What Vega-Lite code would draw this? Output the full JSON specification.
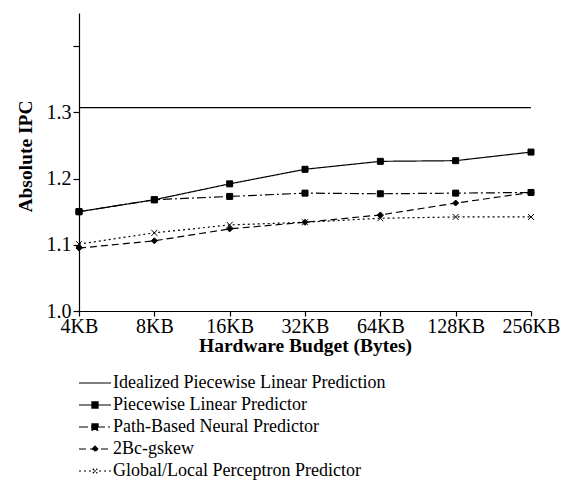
{
  "$schema": "https://vega.github.io/schema/vega-lite/v6.json",
  "width": 452,
  "height": 298,
  "autosize": "none",
  "padding": {"left": 79, "top": 13, "right": 36, "bottom": 174},
  "background": "white",
  "config": {
    "font": "Liberation Serif",
    "view": {"stroke": null},
    "axis": {"domainColor": "black", "tickColor": "black", "labelColor": "black", "titleColor": "black", "grid": false, "domainWidth": 1.2, "tickWidth": 1.2}
  },
  "data": {
    "values": [
      {"size": "4KB", "series": "Idealized Piecewise Linear Prediction", "ipc": 1.307},
      {"size": "8KB", "series": "Idealized Piecewise Linear Prediction", "ipc": 1.307},
      {"size": "16KB", "series": "Idealized Piecewise Linear Prediction", "ipc": 1.307},
      {"size": "32KB", "series": "Idealized Piecewise Linear Prediction", "ipc": 1.307},
      {"size": "64KB", "series": "Idealized Piecewise Linear Prediction", "ipc": 1.307},
      {"size": "128KB", "series": "Idealized Piecewise Linear Prediction", "ipc": 1.307},
      {"size": "256KB", "series": "Idealized Piecewise Linear Prediction", "ipc": 1.307},
      {"size": "4KB", "series": "Piecewise Linear Predictor", "ipc": 1.150},
      {"size": "8KB", "series": "Piecewise Linear Predictor", "ipc": 1.168},
      {"size": "16KB", "series": "Piecewise Linear Predictor", "ipc": 1.192},
      {"size": "32KB", "series": "Piecewise Linear Predictor", "ipc": 1.214},
      {"size": "64KB", "series": "Piecewise Linear Predictor", "ipc": 1.226},
      {"size": "128KB", "series": "Piecewise Linear Predictor", "ipc": 1.227},
      {"size": "256KB", "series": "Piecewise Linear Predictor", "ipc": 1.240},
      {"size": "4KB", "series": "Path-Based Neural Predictor", "ipc": 1.150},
      {"size": "8KB", "series": "Path-Based Neural Predictor", "ipc": 1.168},
      {"size": "16KB", "series": "Path-Based Neural Predictor", "ipc": 1.173},
      {"size": "32KB", "series": "Path-Based Neural Predictor", "ipc": 1.178},
      {"size": "64KB", "series": "Path-Based Neural Predictor", "ipc": 1.177},
      {"size": "128KB", "series": "Path-Based Neural Predictor", "ipc": 1.178},
      {"size": "256KB", "series": "Path-Based Neural Predictor", "ipc": 1.179},
      {"size": "4KB", "series": "2Bc-gskew", "ipc": 1.095},
      {"size": "8KB", "series": "2Bc-gskew", "ipc": 1.106},
      {"size": "16KB", "series": "2Bc-gskew", "ipc": 1.124},
      {"size": "32KB", "series": "2Bc-gskew", "ipc": 1.134},
      {"size": "64KB", "series": "2Bc-gskew", "ipc": 1.145},
      {"size": "128KB", "series": "2Bc-gskew", "ipc": 1.163},
      {"size": "256KB", "series": "2Bc-gskew", "ipc": 1.179},
      {"size": "4KB", "series": "Global/Local Perceptron Predictor", "ipc": 1.101},
      {"size": "8KB", "series": "Global/Local Perceptron Predictor", "ipc": 1.118},
      {"size": "16KB", "series": "Global/Local Perceptron Predictor", "ipc": 1.130},
      {"size": "32KB", "series": "Global/Local Perceptron Predictor", "ipc": 1.134},
      {"size": "64KB", "series": "Global/Local Perceptron Predictor", "ipc": 1.140},
      {"size": "128KB", "series": "Global/Local Perceptron Predictor", "ipc": 1.142},
      {"size": "256KB", "series": "Global/Local Perceptron Predictor", "ipc": 1.142}
    ]
  },
  "encoding": {
    "x": {
      "field": "size", "type": "ordinal",
      "sort": ["4KB", "8KB", "16KB", "32KB", "64KB", "128KB", "256KB"],
      "scale": {"type": "point", "padding": 0},
      "axis": {"title": "Hardware Budget (Bytes)", "labelAngle": 0, "labelFontSize": 20, "labelPadding": 0, "tickSize": 5, "titleFontSize": 19.5, "titleFontWeight": "bold", "titlePadding": 0}
    },
    "y": {
      "field": "ipc", "type": "quantitative",
      "scale": {"domain": [1.0, 1.45], "nice": false, "zero": false},
      "axis": {"title": "Absolute IPC", "values": [1.0, 1.1, 1.2, 1.3, 1.4], "labelExpr": "datum.value > 1.35 ? '' : format(datum.value, '.1f')", "labelFontSize": 20, "labelPadding": 2, "tickSize": 6, "titleFontSize": 19.5, "titleFontWeight": "bold", "titlePadding": 11, "titleY": 143}
    }
  },
  "layer": [
    {
      "mark": {"type": "line", "color": "black", "strokeWidth": 1.2},
      "encoding": {
        "strokeDash": {
          "field": "series", "type": "nominal",
          "scale": {
            "domain": ["Idealized Piecewise Linear Prediction", "Piecewise Linear Predictor", "Path-Based Neural Predictor", "2Bc-gskew", "Global/Local Perceptron Predictor"],
            "range": [[1, 0], [1, 0], [9, 3, 2, 3], [7, 4], [2, 3]]
          },
          "legend": {
            "title": null,
            "orient": "none",
            "legendX": -1,
            "legendY": 361,
            "labelFontSize": 18,
            "labelColor": "black",
            "labelLimit": 0,
            "symbolSize": 256,
            "symbolStrokeWidth": 1.2,
            "symbolStrokeColor": "black",
            "labelOffset": 17,
            "rowPadding": 4,
            "encode": {
              "symbols": {
                "update": {
                  "shape": {"signal": "(datum.value === 'Piecewise Linear Predictor' || datum.value === 'Path-Based Neural Predictor') ? 'M-1,0H3M0.62,-0.38H1.38V0.38H0.62Z' : datum.value === '2Bc-gskew' ? 'M-1,0H3M1,-0.35L1.35,0L1,0.35L0.65,0Z' : datum.value === 'Global/Local Perceptron Predictor' ? 'M-1,0H3M0.72,-0.28L1.28,0.28M0.72,0.28L1.28,-0.28' : 'M-1,0H3'"},
                  "fill": {"value": "black"},
                  "stroke": {"value": "black"}
                }
              }
            }
          }
        }
      }
    },
    {
      "transform": [{"filter": "datum.series !== 'Idealized Piecewise Linear Prediction'"}],
      "mark": {"type": "point", "filled": true, "color": "black", "stroke": "black", "strokeWidth": 1, "opacity": 1},
      "encoding": {
        "shape": {
          "field": "series", "type": "nominal",
          "scale": {
            "domain": ["Piecewise Linear Predictor", "Path-Based Neural Predictor", "2Bc-gskew", "Global/Local Perceptron Predictor"],
            "range": ["square", "square", "M0,-1L1,0L0,1L-1,0Z", "M-1,-1L1,1M-1,1L1,-1"]
          },
          "legend": null
        },
        "size": {
          "field": "series", "type": "nominal",
          "scale": {
            "domain": ["Piecewise Linear Predictor", "Path-Based Neural Predictor", "2Bc-gskew", "Global/Local Perceptron Predictor"],
            "range": [36, 36, 36, 20]
          },
          "legend": null
        }
      }
    }
  ]
}
